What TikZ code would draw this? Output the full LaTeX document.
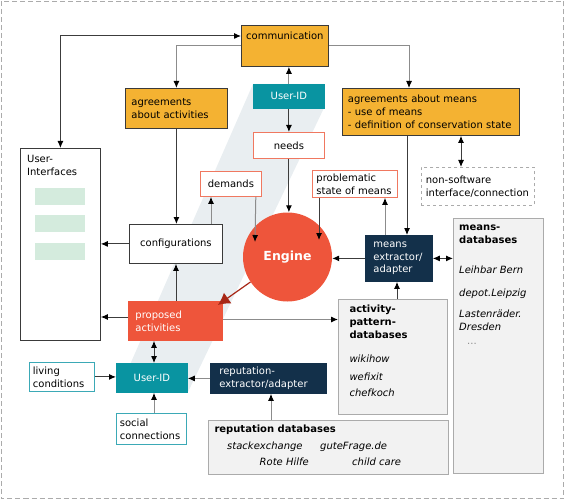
\documentclass[tikz,border=0pt]{standalone}
\usepackage{fontspec}
\setmainfont{DejaVu Sans}
\usepackage{xcolor}
\usepackage{tikz}
\usetikzlibrary{arrows.meta,calc}
\definecolor{agorange}{HTML}{F4B232}
\definecolor{idteal}{HTML}{0994A1}
\definecolor{adnavy}{HTML}{13304A}
\definecolor{engred}{HTML}{EE553B}
\definecolor{needline}{HTML}{F07860}
\definecolor{condline}{HTML}{3BA9B6}
\definecolor{dbfill}{HTML}{F2F2F2}
\definecolor{dbline}{HTML}{ABABAB}
\definecolor{uigreen}{HTML}{D4EBDD}
\definecolor{bandgray}{HTML}{E9EEF1}
\definecolor{darkarrow}{HTML}{A82716}
\definecolor{lndark}{HTML}{3C3C3C}
\definecolor{lnlight}{HTML}{8C8C8C}
\definecolor{boxline}{HTML}{3A3A3A}
\hyphenpenalty=10000

\begin{document}
\begin{tikzpicture}[x=1pt,y=-1pt,font=\fontsize{10}{12.8}\selectfont,
	box/.style={draw=boxline,line width=0.8pt,anchor=north west,inner ysep=0pt,align=left},
	agbox/.style={box,fill=agorange},
	idbox/.style={box,fill=idteal,draw=idteal,text=white,align=center},
	needbox/.style={box,fill=white,draw=needline,align=center},
	condbox/.style={box,fill=white,draw=condline},
	adbox/.style={box,fill=adnavy,draw=adnavy,text=white},
	dbbox/.style={box,fill=dbfill,draw=dbline},
	dashbox/.style={box,fill=white,draw=dbline,dashed},
	tl/.style={anchor=north west,inner sep=0pt,align=left},
	item/.style={inner sep=0pt},
	con/.style={draw=lndark,line width=1pt,-{Latex[length=7pt,width=6pt,color=black]}},
	conl/.style={con,draw=lnlight},
	dcon/.style={con,{Latex[length=7pt,width=6pt,color=black]}-{Latex[length=7pt,width=6pt,color=black]}}]
	\useasboundingbox (0,0) rectangle (565,500);
	\draw[draw=dbline,line width=0.8pt,dash pattern=on 5pt off 3pt] (1,1) rectangle (563.5,498.5);
	\fill[bandgray] (253,84) -- (324,84) -- (324,108) -- (188,392) -- (118,392) -- cycle;

	\node[agbox,minimum width=87pt,minimum height=41pt,label={[tl,xshift=5pt,yshift=-6.5pt]north west:communication}] (comm) at (241,25) {};
	\node[idbox,minimum width=71pt,minimum height=24pt] (uidtop) at (253,84) {User-ID};
	\node[needbox,minimum width=71pt,minimum height=26pt] (needs) at (253,132) {needs};
	\node[agbox,text width=90pt,inner xsep=6pt,minimum height=40pt] (agact) at (125,88) {agreements\\about activities};
	\node[agbox,text width=166pt,inner xsep=5.5pt,minimum height=47pt] (agmeans) at (342,88) {agreements about means\\- use of means\\- definition of conservation state};
	\node[box,fill=white,minimum width=80pt,minimum height=192pt,label={[tl,xshift=7pt,yshift=-7pt]north west:User-\\Interfaces}] (ui) at (20,148) {};
	\foreach \gy in {188,215,243}
		\fill[uigreen] (35,\gy) rectangle (85,\gy+17);
	\node[dashbox,text width=104pt,inner xsep=4.5pt,minimum height=38pt] (nonsw) at (421,167) {non-software\\interface/connection};
	\node[box,fill=white,minimum width=93pt,minimum height=39pt,align=center] (config) at (129,224) {configurations};
	\node[needbox,minimum width=61pt,minimum height=25pt] (demands) at (200,171) {demands};
	\node[needbox,align=left,text width=77pt,inner xsep=4pt,minimum height=27pt] (problem) at (312,170) {problematic\\state of means};
	\node[circle,fill=engred,minimum size=89pt,text=white,font=\fontsize{12.5}{15}\selectfont\bfseries] (engine) at (287.5,257) {Engine};
	\node[adbox,text width=51pt,inner xsep=8pt,minimum height=46pt] (meansx) at (365,235) {means\\extractor/\\adapter};
	\node[dbbox,minimum width=90pt,minimum height=255pt,label={[tl,xshift=6pt,yshift=-6.4pt]north west:\textbf{means-}\\\textbf{databases}\\[17.4pt]\textit{Leihbar Bern}\\[10.2pt]\textit{depot.Leipzig}\\[8.2pt]\textit{Lastenräder.}\\\textit{Dresden}\\[1.7pt]\hspace{8pt}\textcolor{lnlight}{...}}] (meansdb) at (453,218) {};
	\node[dbbox,minimum width=109pt,minimum height=115pt,label={[tl,xshift=11.3pt,yshift=-6pt]north west:\textbf{activity-}\\\textbf{pattern-}\\\textbf{databases}\\[11.2pt]\textit{wikihow}\\[5.2pt]\textit{wefixit}\\[3.2pt]\textit{chefkoch}}] (actdb) at (338,299) {};
	\node[box,fill=engred,draw=engred,text=white,text width=80pt,inner xsep=7pt,minimum height=39pt] (proposed) at (128,301) {proposed\\activities};
	\node[idbox,minimum width=71pt,minimum height=29pt] (uidbot) at (116,363) {User-ID};
	\node[condbox,text width=58pt,inner xsep=3.5pt,minimum height=29pt] (living) at (29,362) {living\\conditions};
	\node[condbox,text width=63pt,inner xsep=3.5pt,minimum height=31pt] (social) at (116,413) {social\\connections};
	\node[adbox,text width=98pt,inner xsep=9pt,minimum height=30pt] (repx) at (210,363) {reputation-\\extractor/adapter};
	\node[dbbox,minimum width=240pt,minimum height=54pt,label={[tl,xshift=6.3pt,yshift=-4.5pt]north west:\textbf{reputation databases}}] (repdb) at (208,420) {};
	\node[item,anchor=base west] (rep-se) at ($(repdb.north west)+(19,29)$) {\textit{stackexchange}};
	\node[item,anchor=base west] (rep-gf) at ($(repdb.north west)+(112,29)$) {\textit{guteFrage.de}};
	\node[item,anchor=base east] (rep-rh) at ($(repdb.north west)+(101,45.5)$) {\textit{Rote Hilfe}};
	\node[item,anchor=base west] (rep-cc) at ($(repdb.north west)+(144,45)$) {\textit{child care}};

	\coordinate (c-ui) at ($(comm.north west)+(0,11)$);
	\coordinate (c-am) at ($(agmeans.north west)+(67,0)$);
	\coordinate (c-cd) at ($(config.north west)+(82,0)$);
	\coordinate (c-de) at ($(demands.south east)+(-6,0)$);
	\coordinate (e-de) at ($(engine.center)+(-32.5,-15)$);
	\coordinate (c-pr) at ($(problem.south west)+(7,0)$);
	\coordinate (e-pr) at ($(engine.center)+(31.5,-17)$);
	\coordinate (c-mp) at ($(meansx.north west)+(20,0)$);
	\coordinate (c-mx) at ($(meansx.north west)+(42,0)$);
	\coordinate (c-ax) at ($(actdb.north west)+(59,0)$);
	\coordinate (c-pu) at ($(proposed.north west)+(0,16)$);
	\coordinate (c-pc) at ($(proposed.north west)+(48,0)$);
	\coordinate (c-pa) at ($(proposed.north east)+(0,18.5)$);
	\coordinate (c-pi) at ($(proposed.south west)+(26,0)$);
	\coordinate (c-si) at ($(social.north west)+(38,0)$);
	\coordinate (c-rr) at ($(repdb.north west)+(63,0)$);
	\coordinate (c-an) at ($(agmeans.south west)+(119,0)$);
	\coordinate (c-ea) at ($(proposed.north east)+(-5,4)$);

	\draw[dcon] (ui.north) |- (c-ui);
	\draw[conl] (comm.west) -| (agact.north);
	\draw[conl] (comm.east) -| (c-am);
	\draw[conl] (uidtop.north) -- (uidtop.north |- comm.south);
	\draw[con] (uidtop.south) -- (needs.north);
	\draw[con] (needs.south) -- (needs.south |- engine.north);
	\draw[con] (agact.south) -- (agact.south |- config.north);
	\draw[conl] (c-cd) -- (c-cd |- demands.south);
	\draw[conl] (c-de) -- (e-de);
	\draw[con] (c-pr) -- (e-pr);
	\draw[conl] (c-mp) -- (c-mp |- problem.south);
	\draw[con] (c-mx |- agmeans.south) -- (c-mx);
	\draw[con] (meansx.west) -- (meansx.west -| engine.east);
	\draw[dcon] (meansx.east) -- (meansx.east -| meansdb.west);
	\draw[con] (c-ax) -- (c-ax |- meansx.south);
	\draw[con] (config.west) -- (config.west -| ui.east);
	\draw[con] (c-pu) -- (c-pu -| ui.east);
	\draw[con] (c-pc) -- (c-pc |- config.south);
	\draw[conl] (c-pa) -- (c-pa -| actdb.west);
	\draw[dcon] (c-pi) -- (c-pi |- uidbot.north);
	\draw[con] (living.east) -- (living.east -| uidbot.west);
	\draw[conl] (c-si) -- (c-si |- uidbot.south);
	\draw[conl] (repx.west) -- (repx.west -| uidbot.east);
	\draw[conl] (c-rr) -- (c-rr |- repx.south);
	\draw[dcon] (c-an) -- (c-an |- nonsw.north);
	\draw[draw=darkarrow,line width=1.2pt,-{Latex[length=12pt,width=13pt]}] (engine.214) -- (c-ea);
\end{tikzpicture}
\end{document}
